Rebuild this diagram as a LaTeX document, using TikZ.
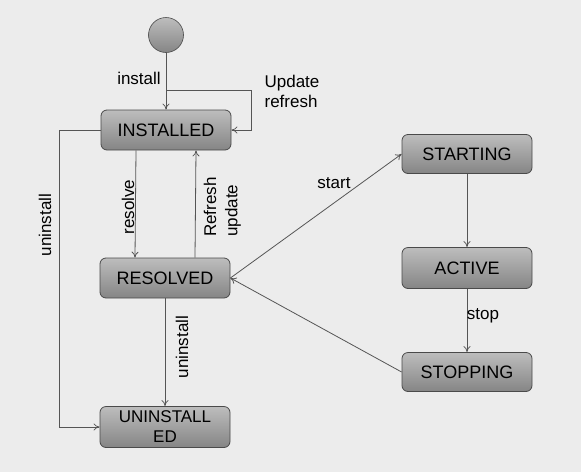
\documentclass[tikz,border=0pt]{standalone}
\usepackage{fontspec}
\setmainfont{Liberation Sans}
\usetikzlibrary{arrows.meta,shadings}
\definecolor{bgc}{HTML}{ECECEC}
\definecolor{linec}{HTML}{555555}
\definecolor{boxtop}{HTML}{BDBDBD}
\definecolor{boxbot}{HTML}{858585}
\definecolor{boxline}{HTML}{4A4A4A}
\tikzset{
  statebox/.style={rectangle, rounded corners=6pt, draw=boxline, line width=0.8pt,
    top color=boxtop, bottom color=boxbot, minimum width=130pt, minimum height=40pt,
    inner sep=1pt, font=\fontsize{18}{19}\selectfont, align=center},
  conn/.style={draw=linec, line width=0.8pt, -{To[length=6pt,width=7pt]}},
  lbl/.style={font=\fontsize{17}{20}\selectfont, inner sep=0pt},
}
\begin{document}
\begin{tikzpicture}[x=1pt,y=-1pt]
\fill[bgc] (0,0) rectangle (581,472);
\useasboundingbox (0,0) rectangle (581,472);
% start circle
\node[circle, draw=boxline, line width=0.6pt, top color=boxtop, bottom color=boxbot, minimum size=35pt, inner sep=0pt] (init) at (166,35) {};
% states
\node[statebox] (inst) at (166,130) {INSTALLED};
\node[statebox] (res) at (165,278) {RESOLVED};
\node[statebox, minimum height=41pt, font=\fontsize{17}{20}\selectfont] (unin) at (165,427) {UNINSTALL\\ED};
\node[statebox, minimum height=39pt] (sta) at (467,154) {STARTING};
\node[statebox, minimum height=41pt] (act) at (467,268) {ACTIVE};
\node[statebox, minimum height=39pt] (sto) at (467,372) {STOPPING};
% connectors
\coordinate (lp) at (166,90);
\draw[conn] (init) -- (inst);
\draw[conn] (lp) -- ++(85,0) |- (inst.east);
\draw[conn] ([xshift=-30pt]inst.south) -- ([xshift=-30pt]res.north);
\draw[conn] ([xshift=30pt]res.north) -- ([xshift=30pt]inst.south);
\draw[conn] (inst.west) -- ++(-41,0) |- (unin.west);
\draw[conn] (res.south) -- (unin.north);
\draw[conn] (res.east) -- (sta.west);
\draw[conn] (sta.south) -- (act.north);
\draw[conn] (act.south) -- (sto.north);
\draw[conn] (sto.west) -- (res.east);
% labels
\node[lbl] (linstall) at (139,78) {install};
\node[lbl, align=left] (lupdate) at (292,91) {Update\\refresh};
\node[lbl, rotate=90] (lresolve) at (128,207) {resolve};
\node[lbl, rotate=90, anchor=west] (lrefresh) at (210,237) {Refresh};
\node[lbl, rotate=90, anchor=west] (lupd) at (233,237) {update};
\node[lbl, rotate=90] (lun1) at (45,225) {uninstall};
\node[lbl, rotate=90] (lun2) at (182,347) {uninstall};
\node[lbl] (lstart) at (334,183) {start};
\node[lbl] (lstop) at (483,316) {stop};
\end{tikzpicture}
\end{document}
